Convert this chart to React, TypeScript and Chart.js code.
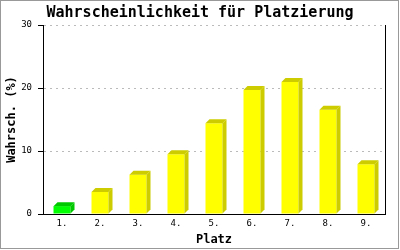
import React, { useEffect, useRef } from "react";
import { Chart, registerables } from "chart.js";

Chart.register(...registerables);

const categories = ["1.", "2.", "3.", "4.", "5.", "6.", "7.", "8.", "9."];
const probabilities = [1.25, 3.5, 6.25, 9.5, 14.4, 19.7, 20.95, 16.55, 7.9];
const barColors = ["#00FF00", "#FFFF00", "#FFFF00", "#FFFF00", "#FFFF00", "#FFFF00", "#FFFF00", "#FFFF00", "#FFFF00"];
const sideColors = ["#00C800", "#CCCC00", "#CCCC00", "#CCCC00", "#CCCC00", "#CCCC00", "#CCCC00", "#CCCC00", "#CCCC00"];
const yTicks = [0, 10, 20, 30];

const MONO = "'DejaVu Sans Mono', 'Liberation Mono', monospace";

const bar3d = {
  id: "bar3d",
  afterDatasetsDraw(chart: any) {
    const ctx = chart.ctx;
    const meta = chart.getDatasetMeta(0);
    const d = 4;
    ctx.save();
    meta.data.forEach((el: any, i: number) => {
      const { x, y, base, width } = el.getProps(["x", "y", "base", "width"], true);
      const left = x - width / 2;
      const right = x + width / 2;
      ctx.fillStyle = sideColors[i];
      ctx.beginPath();
      ctx.moveTo(right, base);
      ctx.lineTo(right + d, base - d);
      ctx.lineTo(right + d, y - d);
      ctx.lineTo(right, y);
      ctx.closePath();
      ctx.fill();
      ctx.beginPath();
      ctx.moveTo(left, y);
      ctx.lineTo(left + d, y - d);
      ctx.lineTo(right + d, y - d);
      ctx.lineTo(right, y);
      ctx.closePath();
      ctx.fill();
    });
    ctx.restore();
  },
};

const frame = {
  id: "frame",
  afterDraw(chart: any) {
    const ctx = chart.ctx;
    ctx.save();
    ctx.strokeStyle = "#999999";
    ctx.lineWidth = 1;
    ctx.strokeRect(0.5, 0.5, 398, 248);
    ctx.restore();
  },
};

export default function App() {
  const ref = useRef<HTMLCanvasElement>(null);
  useEffect(() => {
    document.body.style.margin = "0";
    const chart = new Chart(ref.current!, {
      type: "bar",
      data: {
        labels: categories,
        datasets: [
          {
            data: probabilities,
            backgroundColor: barColors,
            borderWidth: 0,
            barPercentage: 1,
            categoryPercentage: 17 / 38,
          },
        ],
      },
      options: {
        animation: false,
        responsive: false,
        devicePixelRatio: 1,
        layout: { padding: 0 },
        plugins: {
          legend: { display: false },
          tooltip: { enabled: false },
          title: {
            display: true,
            text: "Wahrscheinlichkeit für Platzierung",
            color: "#000",
            font: { family: MONO, size: 15, weight: "bold", lineHeight: 1.2 },
            padding: { top: 4, bottom: 3 },
          },
        },
        scales: {
          x: {
            position: "bottom",
            grid: { display: false, drawTicks: false },
            border: { display: true, color: "#000", width: 1 },
            ticks: { color: "#000", font: { family: MONO, size: 9 }, padding: 4 },
            title: {
              display: true,
              text: "Platz",
              color: "#000",
              font: { family: MONO, size: 12, weight: "bold", lineHeight: 1.2 },
              padding: { top: 0, bottom: 3 },
            },
            afterFit(scale: any) {
              scale.height = 36;
            },
          },
          y: {
            position: "left",
            min: 0,
            max: 30,
            afterBuildTicks(scale: any) {
              scale.ticks = yTicks.map((v) => ({ value: v }));
            },
            grid: {
              color: (c: any) => (c.tick && c.tick.value === 0 ? "rgba(0,0,0,0)" : "#BBBBBB"),
              tickColor: "#000",
              tickLength: 5,
              tickBorderDash: [],
            },
            border: { display: true, color: "#000", width: 1, dash: [2, 4] },
            ticks: { color: "#000", font: { family: MONO, size: 9 }, padding: 6 },
            title: {
              display: true,
              text: "Wahrsch. (%)",
              color: "#000",
              font: { family: MONO, size: 12, weight: "bold", lineHeight: 1.2 },
              padding: { top: 5, bottom: 0 },
            },
            afterFit(scale: any) {
              scale.width = 43;
            },
          },
          yRight: {
            position: "right",
            min: 0,
            max: 30,
            grid: { display: false, drawTicks: false },
            ticks: { display: false },
            border: { display: true, color: "#000", width: 1 },
            afterFit(scale: any) {
              scale.width = 15;
            },
          },
        },
      },
      plugins: [bar3d, frame],
    } as any);
    return () => chart.destroy();
  }, []);
  return <canvas ref={ref} width={400} height={250} />;
}
